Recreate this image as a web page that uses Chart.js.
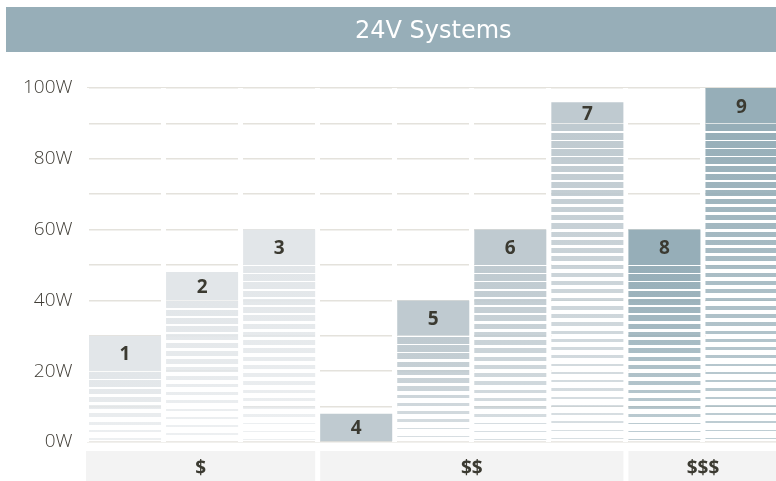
<!DOCTYPE html>
<html>
<head>
<meta charset="utf-8">
<script src="https://cdn.jsdelivr.net/npm/chart.js@4.4.1/dist/chart.umd.min.js"></script>
<style>
  html, body { margin: 0; padding: 0; background: #ffffff; overflow: hidden; }
  #wrap { position: absolute; left: 0; top: 0; width: 780px; height: 481px; }
</style>
</head>
<body>
<div id="wrap"><canvas id="c"></canvas></div>
<script>
// ---- data ----
const titleText = '24V Systems';
const barLabels = ['1', '2', '3', '4', '5', '6', '7', '8', '9'];
const watts = [30, 48, 60, 8, 40, 60, 96, 60, 100];
const groupNames = ['$', '$$', '$$$'];
const groupSizes = [3, 4, 2];
const yTicks = [0, 20, 40, 60, 80, 100];

// ---- styles ----
const groupRGB = [[226, 230, 233], [191, 202, 208], [150, 174, 184]];
const headerColor = '#97aeb8';
const bandColor = '#f3f3f3';
const darkText = '#3b3a31';
const tickColor = '#3f3c35';

const groupOf = [];
groupSizes.forEach((n, g) => { for (let k = 0; k < n; k++) groupOf.push(g); });
const rgba = (c, a) => `rgba(${c[0]},${c[1]},${c[2]},${a})`;
const blockStart = v => Math.max(0, Math.ceil(v / 10) * 10 - 10);

function stripeBg(ctx) {
  const chart = ctx.chart;
  const i = ctx.dataIndex;
  const c = groupRGB[groupOf[i]];
  const ys = chart.scales.y;
  if (!ys || !chart.chartArea) return rgba(c, 1);
  const base = ys.getPixelForValue(0);
  const top = ys.getPixelForValue(blockStart(watts[i]));
  const h = base - top;
  if (h < 2) return rgba(c, 1);
  const g = chart.ctx.createLinearGradient(0, top, 0, base);
  const off = y => Math.min(1, Math.max(0, (y - top) / h));
  const W = '#ffffff';
  const P = 8.25;
  g.addColorStop(0, W);
  for (let s = top + 1; s < base - 0.4; s += P) {
    const f = (base - s) / h;
    const t = 1.1 + (P - 2.3) * f;
    const e = Math.min(s + t, base);
    const col = rgba(c, 0.6 + 0.4 * f);
    g.addColorStop(off(s), W);
    g.addColorStop(off(s), col);
    g.addColorStop(off(e), col);
    g.addColorStop(off(e), W);
  }
  g.addColorStop(1, W);
  return g;
}

const decorPlugin = {
  id: 'decor',
  afterLayout(chart) {
    const a = chart.chartArea;
    if (chart.titleBlock && a) {
      chart.titleBlock.left = a.left;
      chart.titleBlock.right = a.right;
    }
  },
  beforeDraw(chart) {
    const ctx = chart.ctx;
    ctx.save();
    ctx.fillStyle = headerColor;
    ctx.fillRect(6, 7, 770, 45);
    ctx.restore();
  },
  afterDatasetsDraw(chart) {
    const ctx = chart.ctx;
    const meta = chart.getDatasetMeta(1);
    ctx.save();
    ctx.fillStyle = darkText;
    ctx.font = '700 19px "Open Sans"';
    ctx.textAlign = 'center';
    ctx.textBaseline = 'middle';
    meta.data.forEach((el, i) => {
      ctx.fillText(barLabels[i], el.x, (el.y + el.base) / 2 + 1.5);
    });
    ctx.restore();
  },
  afterDraw(chart) {
    const ctx = chart.ctx;
    const x = chart.scales.x;
    const a = chart.chartArea;
    const catW = (a.right - a.left) / watts.length;
    const top = a.bottom + 9;
    const bottom = chart.height;
    ctx.save();
    let idx = 0;
    groupSizes.forEach((n, g) => {
      const first = idx, last = idx + n - 1;
      idx += n;
      const left = x.getPixelForValue(first) - catW / 2 + (g === 0 ? -0.5 : 2.5);
      const right = x.getPixelForValue(last) + catW / 2 - 2.5;
      ctx.fillStyle = bandColor;
      ctx.fillRect(left, top, right - left, bottom - top);
      ctx.fillStyle = darkText;
      ctx.font = '700 19px "Open Sans"';
      ctx.textAlign = 'center';
      ctx.textBaseline = 'middle';
      ctx.fillText(groupNames[g], (left + right) / 2, (top + bottom) / 2 + 3);
    });
    ctx.restore();
  }
};

new Chart(document.getElementById('c'), {
  type: 'bar',
  data: {
    labels: barLabels,
    datasets: [
      {
        label: 'stripes',
        data: watts.map(v => [0, blockStart(v)]),
        backgroundColor: stripeBg,
        borderWidth: 0,
        grouped: false,
        barPercentage: 72 / 77,
        categoryPercentage: 1
      },
      {
        label: 'top',
        data: watts.map(v => [blockStart(v), v]),
        backgroundColor: watts.map((v, i) => rgba(groupRGB[groupOf[i]], 1)),
        borderWidth: 0,
        grouped: false,
        barPercentage: 72 / 77,
        categoryPercentage: 1
      }
    ]
  },
  options: {
    responsive: true,
    maintainAspectRatio: false,
    animation: false,
    layout: { padding: { top: 7, left: 0, right: 0, bottom: 0 } },
    plugins: {
      legend: { display: false },
      tooltip: { enabled: false },
      title: {
        display: true,
        text: titleText,
        color: '#ffffff',
        font: { family: '"DejaVu Sans"', size: 24, weight: 400, lineHeight: 1.2 },
        padding: { top: 10, bottom: 42.2 }
      }
    },
    scales: {
      x: {
        type: 'category',
        offset: true,
        afterFit: s => { s.height = 39; },
        ticks: { display: false },
        grid: { color: '#ffffff', lineWidth: 5, drawTicks: false, offset: true, z: -1 },
        border: { display: false }
      },
      y: {
        min: 0,
        max: 100,
        afterFit: s => { s.width = 86.5; },
        ticks: {
          stepSize: 10,
          padding: 14,
          color: tickColor,
          font: { family: '"Open Sans"', size: 19, weight: 300 },
          callback: v => (yTicks.includes(v) ? v + 'W' : '')
        },
        grid: { color: '#e4e2dc', lineWidth: 1.5, drawTicks: false, z: -2 },
        border: { display: false }
      }
    }
  },
  plugins: [decorPlugin]
});
</script>
</body>
</html>
